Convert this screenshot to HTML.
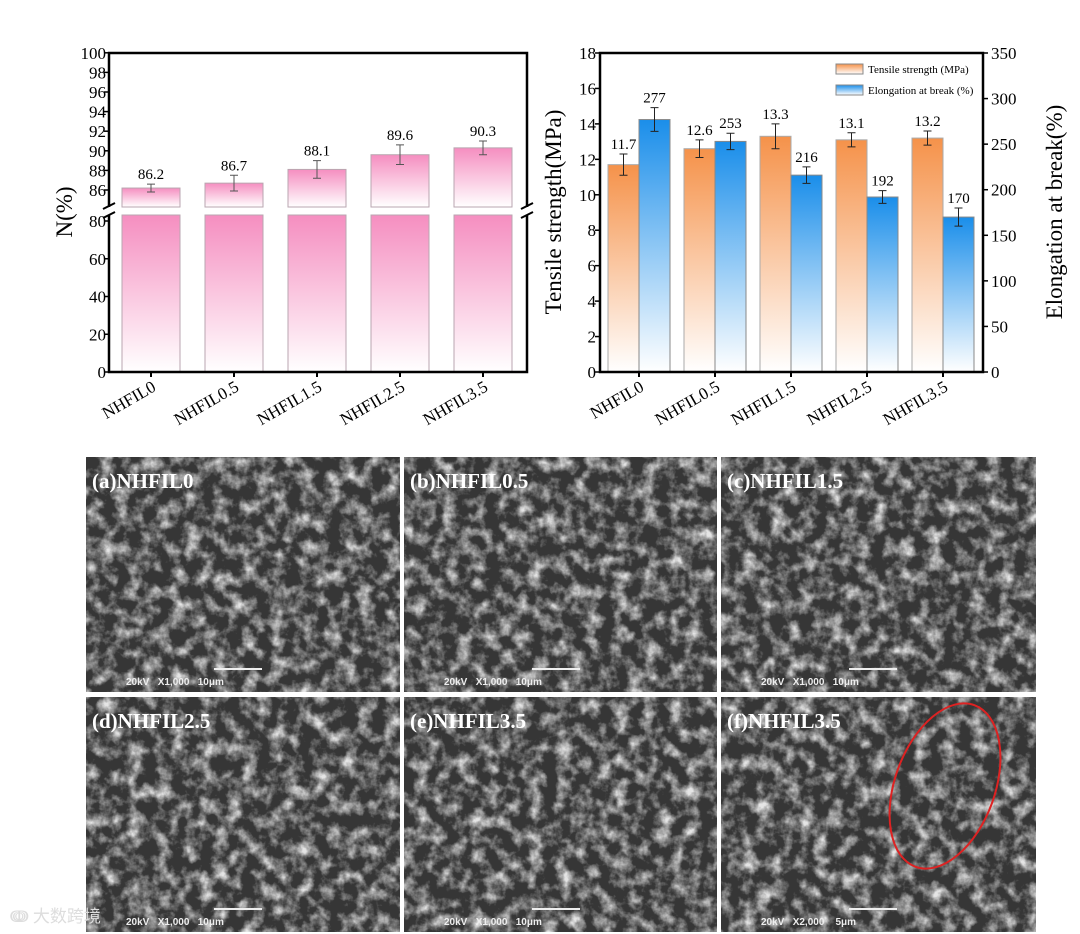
<!DOCTYPE html>
<html><head><meta charset="utf-8"><style>
body{margin:0;background:#fff;width:1080px;height:934px;overflow:hidden}
svg{display:block}
text{font-family:"Liberation Serif",serif}
</style></head><body>
<svg width="1080" height="934" viewBox="0 0 1080 934">
<defs>
<linearGradient id="gPink" x1="0" y1="0" x2="0" y2="1"><stop offset="0" stop-color="#f58ec0"/><stop offset="1" stop-color="#fff"/></linearGradient>
<linearGradient id="gOr" x1="0" y1="0" x2="0" y2="1"><stop offset="0" stop-color="#f5924a"/><stop offset="1" stop-color="#fff"/></linearGradient>
<linearGradient id="gBl" x1="0" y1="0" x2="0" y2="1"><stop offset="0" stop-color="#1a8eea"/><stop offset="1" stop-color="#fff"/></linearGradient>
<filter id="semf" x="0" y="0" width="1" height="1" filterUnits="objectBoundingBox">
<feTurbulence type="fractalNoise" baseFrequency="0.07" numOctaves="4" seed="3"/>
<feColorMatrix type="matrix" values="0 0 0 0 0.78  0 0 0 0 0.78  0 0 0 0 0.78  2.2 0 0 0 -0.9"/>
</filter>
</defs>
<g id="left"></g>
<g id="right"></g>
<g id="sem"></g>
<text x="10" y="922" font-size="17" fill="#ddd" font-family="Noto Sans CJK SC, sans-serif">ↈ 大数跨境</text>
</svg>
<script>
const cats=["NHFIL0","NHFIL0.5","NHFIL1.5","NHFIL2.5","NHFIL3.5"];
const nVals=[86.2,86.7,88.1,89.6,90.3];
const nErr=[0.4,0.8,0.9,1.0,0.7];
const nTicksUp=[86,88,90,92,94,96,98,100];
const nTicksLow=[0,20,40,60,80];
const tsVals=[11.7,12.6,13.3,13.1,13.2];
const tsErr=[0.6,0.5,0.7,0.4,0.4];
const elVals=[277,253,216,192,170];
const elErr=[13,9,9,7,10];
const tsTicks=[0,2,4,6,8,10,12,14,16,18];
const elTicks=[0,50,100,150,200,250,300,350];
const semLabels=["(a)NHFIL0","(b)NHFIL0.5","(c)NHFIL1.5","(d)NHFIL2.5","(e)NHFIL3.5","(f)NHFIL3.5"];
const semScale=["20kV   X1,000   10μm","20kV   X1,000   10μm","20kV   X1,000   10μm","20kV   X1,000   10μm","20kV   X1,000   10μm","20kV   X2,000    5μm"];
const NS="http://www.w3.org/2000/svg";
function mk(p,t,a,txt){const e=document.createElementNS(NS,t);for(const k in a)e.setAttribute(k,a[k]);if(txt!==undefined)e.textContent=txt;p.appendChild(e);return e;}
// LEFT
const L=document.getElementById('left');
const lx0=109,lx1=527,ly0=53,ly1=372,brTop=207,brBot=215;
const yUp=v=>190-(v-86)*9.8, yLow=v=>372-v*1.8875;
const lxc=i=>151+i*83;
cats.forEach((c,i)=>{
 const x=lxc(i)-29;
 let r=mk(L,'rect',{x:x,y:yUp(nVals[i]),width:58,height:brTop-yUp(nVals[i]),fill:'url(#gPink)',stroke:'#b9a6b0','stroke-width':1});
 
 r=mk(L,'rect',{x:x,y:brBot,width:58,height:372-brBot,fill:'url(#gPink)',stroke:'#b9a6b0','stroke-width':1});
 
 const yt=yUp(nVals[i]+nErr[i]),yb=yUp(nVals[i]-nErr[i]),cx=lxc(i);
 const eb=mk(L,'path',{d:`M${cx} ${yt}V${yb}M${cx-4} ${yt}H${cx+4}M${cx-4} ${yb}H${cx+4}`,stroke:'#555',fill:'none','stroke-width':1});
 
 const t=mk(L,'text',{x:cx,y:yt-5,'font-size':15,'text-anchor':'middle'},nVals[i].toFixed(1));
 
 mk(L,'line',{x1:cx,x2:cx,y1:372,y2:377,stroke:'#000','stroke-width':2});
 const xl=mk(L,'text',{x:cx+6,y:390,'font-size':17,'text-anchor':'end',transform:`rotate(-30 ${cx+6} 390)`},c);
 
});
mk(L,'path',{d:`M${lx0} ${brTop}V${ly0}H${lx1}V${brTop}M${lx0} ${brBot}V${ly1}H${lx1}V${brBot}`,fill:'none',stroke:'#000','stroke-width':2.5});
mk(L,'path',{d:`M${lx0-6} ${brTop+2}L${lx0+6} ${brTop-4}M${lx0-6} ${brBot+3}L${lx0+6} ${brBot-3}M${lx1-6} ${brTop+2}L${lx1+6} ${brTop-4}M${lx1-6} ${brBot+3}L${lx1+6} ${brBot-3}`,stroke:'#000','stroke-width':2});
nTicksUp.forEach(v=>{const y=yUp(v);mk(L,'line',{x1:lx0-5,x2:lx0,y1:y,y2:y,stroke:'#000','stroke-width':1.5});
 const t=mk(L,'text',{x:lx0-3,y:y+6,'font-size':17,'text-anchor':'end'},v);});
nTicksLow.forEach(v=>{const y=yLow(v);mk(L,'line',{x1:lx0-5,x2:lx0,y1:y,y2:y,stroke:'#000','stroke-width':1.5});
 const t=mk(L,'text',{x:lx0-3,y:y+6,'font-size':17,'text-anchor':'end'},v);});
let yt=mk(L,'text',{x:72,y:212,'font-size':23,'text-anchor':'middle',transform:'rotate(-90 72 212)'},'N(%)');

// RIGHT
const R=document.getElementById('right');
const rx0=600,rx1=983,ry0=53,ry1=372;
const yTs=v=>ry1-v/18*(ry1-ry0), yEl=v=>ry1-v/350*(ry1-ry0);
const rxc=i=>639+i*76;
cats.forEach((c,i)=>{
 const cx=rxc(i);
 let r=mk(R,'rect',{x:cx-31,y:yTs(tsVals[i]),width:31,height:ry1-yTs(tsVals[i]),fill:'url(#gOr)',stroke:'#aaa','stroke-width':1});
 
 r=mk(R,'rect',{x:cx,y:yEl(elVals[i]),width:31,height:ry1-yEl(elVals[i]),fill:'url(#gBl)',stroke:'#888','stroke-width':1});
 
 [[cx-15.5,yTs(tsVals[i]+tsErr[i]),yTs(tsVals[i]-tsErr[i]),tsVals[i].toFixed(1)],[cx+15.5,yEl(elVals[i]+elErr[i]),yEl(elVals[i]-elErr[i]),String(elVals[i])]].forEach(([x,a,b,lab])=>{
  const eb=mk(R,'path',{d:`M${x} ${a}V${b}M${x-4} ${a}H${x+4}M${x-4} ${b}H${x+4}`,stroke:'#222',fill:'none','stroke-width':1});
  
  const t=mk(R,'text',{x:x,y:a-5,'font-size':15,'text-anchor':'middle'},lab);
  
 });
 mk(R,'line',{x1:cx,x2:cx,y1:ry1,y2:ry1+5,stroke:'#000','stroke-width':2});
 const xl=mk(R,'text',{x:cx+6,y:390,'font-size':17,'text-anchor':'end',transform:`rotate(-30 ${cx+6} 390)`},c);
 
});
mk(R,'rect',{x:rx0,y:ry0,width:rx1-rx0,height:ry1-ry0,fill:'none',stroke:'#000','stroke-width':2.5});
tsTicks.forEach(v=>{const y=yTs(v);mk(R,'line',{x1:rx0-5,x2:rx0,y1:y,y2:y,stroke:'#000','stroke-width':1.5});
 const t=mk(R,'text',{x:rx0-4,y:y+6,'font-size':17,'text-anchor':'end'},v);});
elTicks.forEach(v=>{const y=yEl(v);mk(R,'line',{x1:rx1,x2:rx1+5,y1:y,y2:y,stroke:'#000','stroke-width':1.5});
 const t=mk(R,'text',{x:rx1+8,y:y+6,'font-size':17},v);});
yt=mk(R,'text',{x:561,y:212,'font-size':23,'text-anchor':'middle',transform:'rotate(-90 561 212)'},'Tensile strength(MPa)');

yt=mk(R,'text',{x:1062,y:212,'font-size':23,'text-anchor':'middle',transform:'rotate(-90 1062 212)'},'Elongation at break(%)');

[['url(#gOr)','Tensile strength (MPa)',64],['url(#gBl)','Elongation at break (%)',85]].forEach(([f,lab,y])=>{
 const g=mk(R,'g',{});
 mk(g,'rect',{x:836,y:y,width:27,height:10,fill:f,stroke:'#888','stroke-width':1});
 mk(g,'text',{x:868,y:y+9,'font-size':11},lab);
});
// SEM
const S=document.getElementById('sem');
const colX=[86,404,721],colW=[314,313,315],rowY=[457,697],rowH=235;
semLabels.forEach((lab,i)=>{
 const x=colX[i%3],y=rowY[Math.floor(i/3)],w=colW[i%3];
 const g=mk(S,'g',{});
 const r=mk(g,'rect',{x:x,y:y,width:w,height:rowH,fill:'#363636'});
 
 mk(g,'rect',{x:x,y:y,width:w,height:rowH,fill:'#fff',filter:'url(#semf)'});
 const t=mk(g,'text',{x:x+6,y:y+31,'font-size':21,'font-weight':'bold',fill:'#fff'},lab);
 
 mk(g,'line',{x1:x+128,x2:x+176,y1:y+212,y2:y+212,stroke:'#eee','stroke-width':2});
 const s=mk(g,'text',{x:x+40,y:y+228,'font-size':10,'font-weight':'bold',fill:'#eee'},semScale[i]);
 s.style.fontFamily='"Liberation Sans",sans-serif';s.style.whiteSpace='pre';
 
});
const el=mk(S,'ellipse',{cx:945,cy:786,rx:50,ry:86,transform:'rotate(20 945 786)',fill:'none',stroke:'#d22','stroke-width':2});

</script>
</body></html>
